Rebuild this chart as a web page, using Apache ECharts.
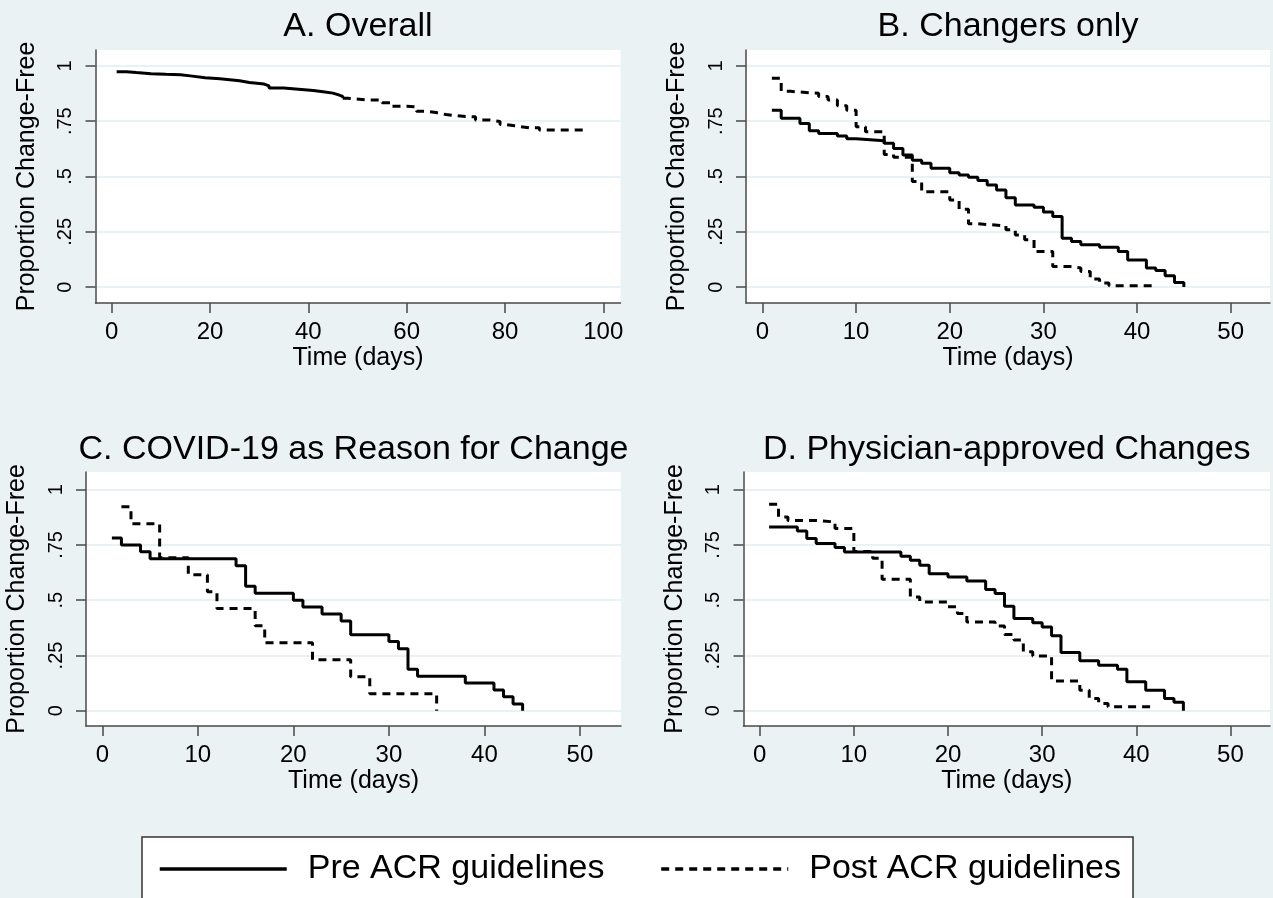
<!DOCTYPE html>
<html>
<head>
<meta charset="utf-8">
<title>Proportion change-free by ACR guideline period</title>
<script src="https://cdn.jsdelivr.net/npm/echarts@6/dist/echarts.min.js"></script>
<style>
  html, body { margin: 0; padding: 0; background: #eaf2f3; }
  #chart { width: 1273px; height: 898px; }
</style>
</head>
<body>
<div id="chart"></div>
<script>
const PRE = 'Pre ACR guidelines'
const POST = 'Post ACR guidelines'
const FONT = '"Liberation Sans", Arial, Helvetica, sans-serif'

const panelTitles = ['A. Overall', 'B. Changers only', 'C. COVID-19 as Reason for Change', 'D. Physician-approved Changes']
const xTicksOverall = [0, 20, 40, 60, 80, 100]
const xTicksDays = [0, 10, 20, 30, 40, 50]
const yTicks = [0, 0.25, 0.5, 0.75, 1]
const yTickText = ['0', '.25', '.5', '.75', '1']

// [day, proportion change-free]
const overallPre = [[1, 0.974], [3, 0.970], [5, 0.965], [8, 0.962], [11, 0.960], [14, 0.955], [16, 0.947], [19, 0.942], [22, 0.938], [24, 0.933], [26, 0.925], [28, 0.918], [31, 0.910], [32, 0.900], [35, 0.895], [38, 0.889], [41, 0.883], [43, 0.877], [45, 0.870], [46, 0.862], [47, 0.854]]
const overallPost = [[47, 0.854], [48, 0.846], [52, 0.846], [55, 0.834], [57, 0.818], [60, 0.815], [62, 0.795], [64, 0.789], [66, 0.780], [68, 0.771], [72, 0.770], [74, 0.755], [77, 0.749], [79, 0.735], [80, 0.729], [82, 0.720], [85, 0.720], [87, 0.710], [97, 0.710]]

const changersPre = [[1, 0.800], [2, 0.763], [4, 0.740], [5, 0.707], [6, 0.695], [8, 0.683], [9, 0.671], [10, 0.662], [13, 0.650], [14, 0.627], [15, 0.597], [16, 0.574], [17, 0.560], [18, 0.537], [20, 0.517], [21, 0.507], [22, 0.497], [23, 0.482], [24, 0.462], [25, 0.439], [26, 0.404], [27, 0.371], [29, 0.361], [30, 0.339], [31, 0.319], [32, 0.221], [33, 0.206], [34, 0.191], [36, 0.180], [38, 0.161], [39, 0.123], [41, 0.086], [42, 0.075], [43, 0.051], [44, 0.021], [45, 0]]
const changersPost = [[1, 0.944], [2, 0.885], [3, 0.876], [6, 0.862], [7, 0.846], [8, 0.820], [9, 0.800], [10, 0.725], [11, 0.702], [13, 0.600], [14, 0.587], [16, 0.477], [17, 0.431], [20, 0.394], [21, 0.352], [22, 0.286], [23, 0.277], [26, 0.259], [27, 0.235], [28, 0.214], [29, 0.161], [31, 0.093], [33, 0.086], [34, 0.071], [35, 0.036], [36, 0.018], [37, 0.006], [42, 0.006]]

const covidPre = [[1, 0.781], [2, 0.750], [4, 0.719], [5, 0.688], [14, 0.656], [15, 0.563], [16, 0.531], [20, 0.500], [21, 0.469], [23, 0.438], [25, 0.406], [26, 0.344], [30, 0.313], [31, 0.281], [32, 0.188], [33, 0.156], [38, 0.125], [41, 0.094], [42, 0.063], [43, 0.031], [44, 0]]
const covidPost = [[2, 0.923], [3, 0.846], [6, 0.692], [9, 0.615], [11, 0.538], [12, 0.462], [16, 0.385], [17, 0.308], [22, 0.231], [26, 0.154], [28, 0.077], [35, 0]]

const physicianPre = [[1, 0.831], [4, 0.813], [5, 0.779], [6, 0.756], [8, 0.738], [9, 0.718], [15, 0.699], [16, 0.681], [17, 0.658], [18, 0.620], [20, 0.605], [22, 0.587], [24, 0.548], [25, 0.530], [26, 0.473], [27, 0.417], [29, 0.398], [30, 0.379], [31, 0.339], [32, 0.264], [34, 0.226], [36, 0.206], [38, 0.188], [39, 0.131], [41, 0.093], [43, 0.055], [44, 0.038], [45, 0]]
const physicianPost = [[1, 0.934], [2, 0.876], [3, 0.861], [6, 0.854], [8, 0.824], [10, 0.720], [12, 0.690], [13, 0.595], [16, 0.515], [17, 0.492], [20, 0.470], [21, 0.440], [22, 0.402], [25, 0.383], [26, 0.345], [27, 0.320], [28, 0.267], [29, 0.248], [31, 0.135], [34, 0.093], [35, 0.055], [36, 0.033], [37, 0.018], [42, 0.018]]

const panels = [
  { pre: overallPre, post: overallPost, xTicks: xTicksOverall, xMin: -3.3, xMax: 103.5, yMin: -0.072, yMax: 1.072 },
  { pre: changersPre, post: changersPost, xTicks: xTicksDays, xMin: -1.76, xMax: 54.2, yMin: -0.072, yMax: 1.072 },
  { pre: covidPre, post: covidPost, xTicks: xTicksDays, xMin: -1.71, xMax: 54.3, yMin: -0.069, yMax: 1.08 },
  { pre: physicianPre, post: physicianPost, xTicks: xTicksDays, xMin: -1.72, xMax: 54.2, yMin: -0.069, yMax: 1.08 },
]

const grids = [
  { left: 95.5, top: 50, width: 525, height: 253 },
  { left: 746, top: 50, width: 524, height: 253 },
  { left: 86, top: 472, width: 535, height: 254 },
  { left: 743.5, top: 472, width: 526.5, height: 254 },
]
const titleTops = [10, 10, 433, 433]

const axisColor = '#4a4a4a'
const gridColor = '#e3edf0'

const chart = echarts.init(document.getElementById('chart'), null, { renderer: 'canvas' })

chart.setOption({
  animation: false,
  backgroundColor: '#eaf2f3',
  textStyle: { fontFamily: FONT },
  title: panelTitles.map((t, i) => ({
    text: t,
    left: grids[i].left + grids[i].width / 2,
    top: titleTops[i],
    textAlign: 'center',
    padding: 0,
    textStyle: { fontFamily: FONT, fontSize: 34, fontWeight: 'normal', color: '#000' },
  })),
  legend: {
    data: [PRE, POST],
    left: 142,
    top: 837,
    orient: 'horizontal',
    padding: [15, 12, 15, 16],
    itemWidth: 127,
    itemHeight: 20,
    itemGap: 55,
    backgroundColor: '#fff',
    borderColor: '#333',
    borderWidth: 1.5,
    borderRadius: 0,
    selectedMode: false,
    itemStyle: { opacity: 0, borderWidth: 0 },
    lineStyle: { width: 3.5 },
    textStyle: { fontFamily: FONT, fontSize: 34, color: '#000', padding: [0, 0, 0, 16] },
  },
  grid: grids.map((g) => ({ ...g, show: true, backgroundColor: '#fff', borderWidth: 0, containLabel: false })),
  xAxis: panels.map((p, i) => ({
    type: 'value',
    gridIndex: i,
    min: p.xMin,
    max: p.xMax,
    name: 'Time (days)',
    nameLocation: 'middle',
    nameGap: 43,
    nameTextStyle: { fontFamily: FONT, fontSize: 25, color: '#000' },
    axisLine: { show: true, onZero: false, lineStyle: { color: axisColor, width: 1.5 } },
    axisTick: { show: true, length: 10, lineStyle: { color: axisColor, width: 1.5 }, customValues: p.xTicks },
    axisLabel: { fontFamily: FONT, fontSize: 24, color: '#000', margin: 17, customValues: p.xTicks },
    splitLine: { show: false },
  })),
  yAxis: panels.map((p, i) => ({
    type: 'value',
    gridIndex: i,
    min: p.yMin,
    max: p.yMax,
    name: 'Proportion Change-Free',
    nameLocation: 'middle',
    nameGap: 56,
    nameTextStyle: { fontFamily: FONT, fontSize: 25, color: '#000' },
    axisLine: { show: true, onZero: false, lineStyle: { color: axisColor, width: 1.5 } },
    axisTick: { show: true, length: 10, lineStyle: { color: axisColor, width: 1.5 }, customValues: yTicks },
    axisLabel: {
      fontFamily: FONT,
      fontSize: 20,
      color: '#000',
      rotate: 90,
      margin: 20,
      customValues: yTicks,
      formatter: (v) => {
        const k = yTicks.findIndex((t) => Math.abs(t - v) < 1e-6)
        return k >= 0 ? yTickText[k] : ''
      },
    },
    splitLine: { show: true, lineStyle: { color: gridColor, width: 1.5 } },
  })),
  series: panels.flatMap((p, i) => [
    {
      name: PRE,
      type: 'line',
      xAxisIndex: i,
      yAxisIndex: i,
      step: 'end',
      symbol: 'none',
      data: p.pre,
      lineStyle: { color: '#000', width: 3, type: 'solid' },
      itemStyle: { color: '#000' },
    },
    {
      name: POST,
      type: 'line',
      xAxisIndex: i,
      yAxisIndex: i,
      step: 'end',
      symbol: 'none',
      data: p.post,
      lineStyle: { color: '#000', width: 3, type: [8, 6] },
      itemStyle: { color: '#000' },
    },
  ]),
})
</script>
</body>
</html>
